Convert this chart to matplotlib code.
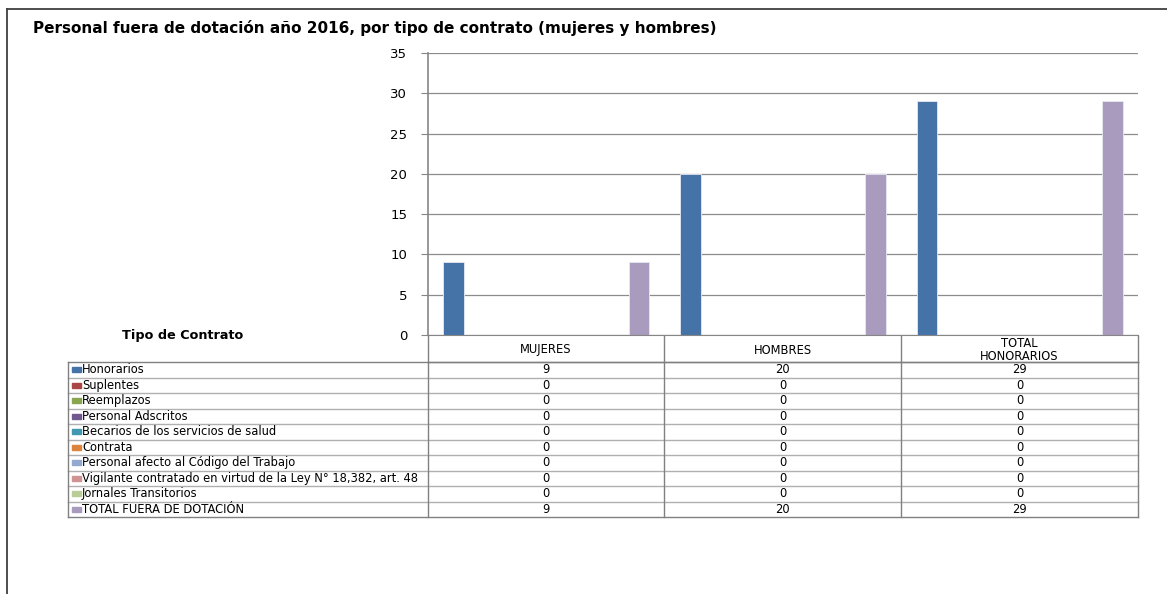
import matplotlib.pyplot as plt
import numpy as np
from matplotlib.lines import Line2D
from matplotlib.patches import Rectangle

# Datos
grupos = ['MUJERES', 'HOMBRES', 'TOTAL\nHONORARIOS']
series = ['Honorarios', 'Suplentes', 'Reemplazos', 'Personal Adscritos',
          'Becarios de los servicios de salud', 'Contrata',
          'Personal afecto al Código del Trabajo',
          'Vigilante contratado en virtud de la Ley N° 18,382, art. 48',
          'Jornales Transitorios', 'TOTAL FUERA DE DOTACIÓN']
honorarios = [9, 20, 29]
suplentes = [0, 0, 0]
reemplazos = [0, 0, 0]
adscritos = [0, 0, 0]
becarios = [0, 0, 0]
contrata = [0, 0, 0]
codigo_trabajo = [0, 0, 0]
vigilantes = [0, 0, 0]
jornales = [0, 0, 0]
total = [9, 20, 29]
colores = ['#4572A7', '#AA4643', '#89A54E', '#71588F', '#4198AF',
           '#DB843D', '#93A9CF', '#D19392', '#B9CD96', '#A99BBD']

valores = [honorarios, suplentes, reemplazos, adscritos, becarios,
           contrata, codigo_trabajo, vigilantes, jornales, total]

W, H = 1167, 594
fig = plt.figure(figsize=(W / 100, H / 100), dpi=100)
plt.rcParams['font.family'] = ['DejaVu Sans']


def fx(x):
    return x / W


def fy(y):
    return 1 - y / H


# area del grafico (en pixeles)
x0, x1, ytop, ybot = 428, 1138, 53, 335
ax = fig.add_axes([fx(x0), fy(ybot), fx(x1 - x0), (ybot - ytop) / H])

n = len(series)
w = 1 / (n + 1.5)
x = np.arange(len(grupos))
for j, (vals, c) in enumerate(zip(valores, colores)):
    pos = x - 0.5 + 0.75 * w + (j + 0.5) * w
    ax.bar(pos, vals, width=w, color=c, edgecolor='#e6e9f2', linewidth=0.6)

ax.set_xlim(-0.5, len(grupos) - 0.5)
ax.set_ylim(0, 35)
ax.set_yticks(range(0, 36, 5))
ax.set_xticks([])
ax.grid(axis='y', color='#8c8c8c', linewidth=0.9)
ax.set_axisbelow(True)
for s in ['top', 'right']:
    ax.spines[s].set_visible(False)
ax.spines['left'].set_color('#868686')
ax.spines['bottom'].set_color('#868686')
ax.spines['left'].set_linewidth(1.2)
ax.tick_params(axis='y', length=5, color='#868686', pad=10, labelsize=9.5)

# marco exterior
fig.add_artist(Line2D([fx(7), fx(W)], [fy(9), fy(9)], color='#404040', lw=1.3))
fig.add_artist(Line2D([fx(7), fx(7)], [fy(9), fy(H)], color='#404040', lw=1.3))

fig.text(fx(33), fy(28), 'Personal fuera de dotación año 2016, por tipo de contrato (mujeres y hombres)',
         fontsize=11, fontweight='bold', va='center', ha='left')

# tabla de datos
cols = [428, 664, 901, 1138]
hy0, hy1 = 336, 362
rh = 15.5
tx0 = 68
gris = '#808080'
gris_claro = '#b0b0b0'


def linea(xa, xb, ya, yb, c=gris, lw=1.0):
    fig.add_artist(Line2D([fx(xa), fx(xb)], [fy(ya), fy(yb)], color=c, lw=lw))


fig.text(fx(183), fy(336), 'Tipo de Contrato', fontsize=9.2, fontweight='bold',
         ha='center', va='center')

# encabezado
linea(cols[0], cols[-1], hy1, hy1, gris)
for c in cols:
    linea(c, c, hy0, hy1, gris)
for i, g in enumerate(grupos):
    fig.text(fx((cols[i] + cols[i + 1]) / 2), fy((hy0 + hy1) / 2 + 1), g,
             fontsize=8.3, ha='center', va='center', linespacing=0.95)

# filas
ybottom = hy1 + rh * n
linea(tx0, cols[-1], hy1, hy1, gris)
for r in range(1, n):
    yy = hy1 + rh * r
    linea(tx0, cols[-1], yy, yy, gris_claro)
linea(tx0, cols[-1], ybottom, ybottom, gris)
linea(tx0, tx0, hy1, ybottom, gris)
for c in cols:
    linea(c, c, hy1, ybottom, gris)

for r, (nombre, vals, col) in enumerate(zip(series, valores, colores)):
    yc = hy1 + rh * r + rh / 2
    fig.add_artist(Rectangle((fx(72), fy(yc + 2.5)), fx(9), 5 / H,
                             color=col, transform=fig.transFigure))
    fig.text(fx(82), fy(yc), nombre, fontsize=8.3, ha='left', va='center')
    for i, v in enumerate(vals):
        fig.text(fx((cols[i] + cols[i + 1]) / 2), fy(yc), str(v),
                 fontsize=8.3, ha='center', va='center')

fig.savefig('out.png', dpi=100)
